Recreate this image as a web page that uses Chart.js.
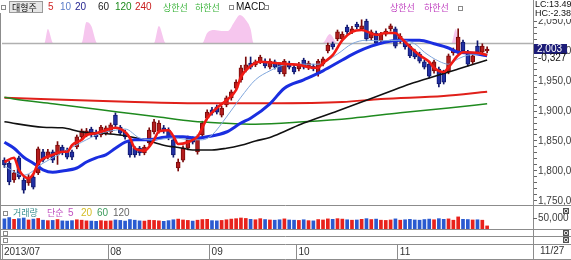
<!DOCTYPE html>
<html>
<head>
<meta charset="utf-8">
<script src="https://cdn.jsdelivr.net/npm/chart.js@4"></script>
<style>
  html, body { margin: 0; padding: 0; background: #fff; overflow: hidden; }
  canvas { display: block; }
</style>
</head>
<body>
<canvas id="chart" width="571" height="260"></canvas>
<script>
// x axis: one slot per trading day (data runs 2013/07/02 .. 11/27, rest left empty)
const slotCount = 110;
const monthTicks = [-0.5, 21.5, 42.5, 60.5, 81.5];
const monthLabels = ["2013/07", "08", "09", "10", "11"];
const lastDate = "11/27";
const priceLabelStep = 50;

// daily candles
const open = [1818,1813,1785,1822,1785,1780,1790,1797,1832,1823, 1832,1827,1840,1835,1832,1840,1857,1860,1870,1865,
  1860,1863,1865,1893,1873,1865,1848,1838,1838,1830, 1847,1865,1867,1872,1868,1852,1805,1818,1838,1853,
  1832,1860,1888,1902,1907,1893,1910,1922,1938,1952, 1968,1980,1977,1982,1983,1973,1982,1978,1962,1980,
  1973,1970,1985,1972,1975,1962,1978,2000,2012,2020, 2020,2040,2032,2045,2037,2050,2022,2030,2017,2028,
  2037,2037,2017,2015,2008,2000,1995,1982,1978,1967, 1970,1965,1965,1997,1998,2015,1998,1982,2008,1998, 2000];
const high = [1822,1816,1801,1825,1789,1794,1795,1840,1836,1836, 1835,1849,1843,1838,1835,1860,1870,1871,1873,1868,
  1876,1875,1880,1897,1876,1868,1851,1841,1841,1843, 1872,1886,1884,1876,1872,1855,1820,1842,1858,1857,
  1860,1883,1902,1906,1910,1908,1925,1935,1952,1976, 1990,1990,1985,1993,1987,1987,1985,1981,1986,1983,
  1977,1981,1988,1983,1978,1986,1990,2013,2015,2035, 2032,2043,2041,2048,2052,2053,2035,2033,2031,2037,
  2045,2040,2029,2018,2011,2003,1998,1985,1981,1985, 1973,1968,1995,2005,2037,2018,2001,1995,2017,2012, 2007];
const low = [1806,1777,1781,1787,1763,1776,1770,1794,1815,1820, 1814,1811,1827,1820,1819,1837,1854,1857,1857,1853,
  1857,1860,1862,1874,1860,1853,1823,1823,1826,1827, 1843,1862,1863,1863,1852,1823,1800,1815,1835,1845,
  1828,1857,1885,1893,1895,1890,1907,1918,1935,1948, 1965,1970,1974,1979,1972,1970,1970,1962,1958,1970,
  1962,1967,1970,1969,1967,1958,1975,1997,2003,2017, 2017,2028,2029,2037,2034,2017,2018,2010,2014,2025,
  2033,2005,2013,2003,1989,1987,1980,1970,1955,1963, 1940,1945,1962,1993,1995,1997,1975,1979,1995,1995, 1997];
const close = [1810,1782,1797,1790,1768,1790,1773,1837,1818,1832, 1818,1843,1830,1823,1823,1857,1867,1867,1860,1857,
  1873,1872,1877,1877,1863,1857,1827,1827,1830,1840, 1868,1882,1880,1867,1855,1827,1815,1838,1855,1848,
  1857,1880,1898,1897,1898,1905,1922,1932,1948,1972, 1977,1973,1982,1990,1975,1983,1973,1965,1983,1973,
  1965,1978,1973,1980,1970,1983,1987,2010,2007,2032, 2028,2032,2037,2040,2042,2020,2032,2013,2028,2033,
  2042,2008,2025,2007,1992,1990,1983,1973,1958,1982, 1945,1948,1992,2002,2023,2000,1978,1992,1998,2008, 2003];
const volume = [46000,52000,44000,47000,50000,41000,45000,48000,40000,38000, 39000,43000,37000,36000,38000,42000,40000,37000,36000,35000,
  38000,36000,37000,41000,39000,36000,43000,40000,37000,36000, 40000,39000,37000,35000,38000,42000,45000,41000,39000,36000,
  40000,43000,44000,38000,37000,39000,42000,45000,47000,50000, 48000,44000,42000,47000,43000,41000,40000,42000,46000,41000,
  40000,39000,42000,38000,37000,43000,41000,46000,44000,47000, 45000,42000,40000,41000,44000,47000,43000,45000,40000,39000,
  41000,46000,40000,42000,44000,41000,40000,43000,45000,42000, 47000,44000,46000,40000,55000,44000,43000,41000,42000,40000, 14000];

// moving averages as [day index, value]
const ma5 = [[0,1815],[2,1822],[3,1802],[5,1788],[6,1795],[7,1813],[10,1827],[12,1832],[13,1832],[14,1843],[16,1852],[17,1860],
  [19,1863],[21,1868],[23,1872],[25,1865],[26,1855],[27,1838],[29,1834],[31,1852],[32,1866],[34,1868],[35,1858],[36,1845],
  [38,1848],[39,1852],[40,1857],[42,1888],[44,1905],[46,1918],[48,1935],[49,1957],[51,1975],[53,1982],[56,1980],[59,1978],
  [61,1977],[63,1973],[65,1972],[66,1980],[68,1993],[70,2018],[72,2032],[74,2035],[77,2027],[79,2030],[81,2030],[82,2023],
  [84,2007],[86,1993],[88,1982],[89,1972],[91,1965],[92,1973],[94,1993],[95,1998],[98,1997],[100,1993]];
const ma10 = [[0,1808],[4,1793],[8,1813],[13,1835],[16,1848],[20,1863],[23,1868],[25,1870],[28,1855],[31,1852],[35,1855],
  [39,1852],[41,1852],[43,1860],[46,1890],[49,1923],[52,1952],[55,1967],[58,1977],[60,1978],[65,1978],[69,1995],[72,2012],
  [75,2018],[78,2017],[82,2018],[85,2012],[87,1998],[90,1983],[92,1978],[94,1987],[96,1993],[98,1995],[100,1995]];
const ma20 = [[0,1848],[2,1838],[4,1823],[6,1813],[8,1802],[10,1798],[12,1800],[15,1805],[17,1815],[19,1822],[21,1827],
  [23,1838],[25,1848],[27,1852],[30,1852],[34,1857],[37,1857],[40,1855],[42,1857],[46,1865],[49,1880],[51,1888],[55,1912],
  [58,1938],[62,1952],[66,1967],[70,1985],[73,1998],[76,2008],[79,2015],[82,2018],[86,2018],[89,2012],[92,2005],[94,1998],
  [96,1997],[98,1995],[100,1992]];
const ma60 = [[0,1882],[8,1873],[12,1872],[16,1865],[20,1863],[24,1860],[29,1852],[33,1843],[37,1838],[39,1835],[43,1835],
  [46,1838],[49,1843],[52,1850],[55,1856],[58,1866],[62,1880],[69,1900],[74,1915],[79,1930],[84,1945],[90,1960],[94,1970],
  [98,1980],[100,1985]];
const ma120 = [[0,1923],[2,1920],[10,1912],[20,1902],[27,1895],[32,1890],[39,1883],[45,1880],[52,1878],[62,1882],[72,1888],
  [82,1897],[92,1905],[100,1912]];
const ma240 = [[0,1922],[27,1915],[40,1913],[55,1913],[70,1915],[78,1920],[91,1925],[100,1932]];

// MACD oscillator, positive humps only show above its zero line
const macd = [[0,0],[8.3,0],[9,14],[10.1,0],[16,0],[17,21],[18,17],[19.2,0],[31,0],[32,17],[33.4,0],[41,0],[42,10],
  [43.5,13],[45,12],[46.3,12],[47.5,20],[48.8,28],[50,23],[51,14],[51.6,0],[65.9,0],[67.4,9],[69,0],[92.6,0],[93.5,14],
  [94.3,0],[100,0]];

const UP = "#b31c1c", UP_DARK = "#7a0a0a";
const DOWN = "#2230a4", DOWN_DARK = "#10186e";
const LAT = '10px "Liberation Sans", Arial, sans-serif';
const SMALL = '9px "Liberation Sans", Arial, sans-serif';
const KR = '9px "Noto Sans CJK KR", sans-serif';

const isUp = open.map((o, i) => close[i] >= o);
const pts = arr => arr.map(p => ({ x: p[0], y: p[1] }));

function txt(ctx, s, x, y, color, font) {
  ctx.font = font || LAT;
  ctx.fillStyle = color;
  ctx.textAlign = "left";
  ctx.textBaseline = "middle";
  ctx.fillText(s, x, y);
}
function sq(ctx, x, y) {
  ctx.strokeStyle = "#8a8a8a";
  ctx.lineWidth = 1;
  ctx.strokeRect(x + 0.5, y + 0.5, 4, 4);
}
function xbox(ctx, x, y) {
  ctx.fillStyle = "#dcdcdc";
  ctx.fillRect(x, y, 6, 6);
  ctx.strokeStyle = "#505050";
  ctx.lineWidth = 1;
  ctx.strokeRect(x + 0.5, y + 0.5, 5, 5);
  ctx.beginPath();
  ctx.moveTo(x + 1.5, y + 1.5); ctx.lineTo(x + 4.5, y + 4.5);
  ctx.moveTo(x + 4.5, y + 1.5); ctx.lineTo(x + 1.5, y + 4.5);
  ctx.stroke();
}

const htsDecor = {
  id: "htsDecor",
  afterDatasetDraw(chart, args) {
    if (args.index !== 0) return;
    // MACD zero line
    const { ctx, chartArea: a } = chart;
    const y = Math.round(chart.scales.ym.getPixelForValue(0)) + 0.5;
    ctx.save();
    ctx.strokeStyle = "#b0b0b0";
    ctx.lineWidth = 1.5;
    ctx.beginPath(); ctx.moveTo(a.left, y); ctx.lineTo(a.right, y); ctx.stroke();
    ctx.restore();
  },
  afterDraw(chart) {
    const { ctx, chartArea: a } = chart;
    const W = chart.width, H = chart.height;
    ctx.save();

    // panel rules
    ctx.strokeStyle = "#8c8c8c";
    ctx.lineWidth = 1;
    [205, 229, 236, 244, 259].forEach(y => {
      ctx.beginPath(); ctx.moveTo(0, y + 0.5); ctx.lineTo(W, y + 0.5); ctx.stroke();
    });
    ctx.beginPath();
    ctx.moveTo(a.right + 0.5, 0); ctx.lineTo(a.right + 0.5, H);
    ctx.moveTo(0.5, 13); ctx.lineTo(0.5, H);
    ctx.stroke();

    // toolbar
    sq(ctx, 1, 5);
    ctx.fillStyle = "#e6e6e6";
    ctx.fillRect(9, 1, 34, 12);
    ctx.strokeStyle = "#9a9a9a";
    ctx.strokeRect(9.5, 1.5, 33, 11);
    txt(ctx, "대형주", 12, 7.5, "#111", KR);
    txt(ctx, "5", 48, 7.5, "#d02828");
    txt(ctx, "10", 60, 7.5, "#5a7cc8");
    txt(ctx, "20", 75, 7.5, "#1c1c8c");
    txt(ctx, "60", 98, 7.5, "#222");
    txt(ctx, "120", 115, 7.5, "#1d8a1d");
    txt(ctx, "240", 135, 7.5, "#c81e1e");
    txt(ctx, "상한선", 163, 7.5, "#3cb43c", KR);
    txt(ctx, "하한선", 195, 7.5, "#3cb43c", KR);
    sq(ctx, 229, 5);
    txt(ctx, "MACD", 236, 7.5, "#111");
    sq(ctx, 264, 5);
    txt(ctx, "상한선", 390, 8, "#c040c0", KR);
    txt(ctx, "하한선", 424, 8, "#c040c0", KR);
    sq(ctx, 458, 6);

    // right column readouts
    ctx.fillStyle = "#fff";
    ctx.fillRect(a.right + 1, 0, W - a.right - 1, 19);
    txt(ctx, "LC:13.49", a.right + 2, 5, "#111", SMALL);
    txt(ctx, "HC:-2.38", a.right + 2, 14, "#111", SMALL);
    const yLast = Math.round(chart.scales.y.getPixelForValue(close[close.length - 1]));
    ctx.fillStyle = "#1c1c78";
    ctx.fillRect(a.right + 1, yLast - 5, 33, 10);
    txt(ctx, close[close.length - 1].toLocaleString("en-US"), a.right + 4, yLast, "#fff");
    txt(ctx, "-0,327", a.right + 5, yLast + 9, "#111");

    // volume panel
    sq(ctx, 3, 211);
    txt(ctx, "거래량", 13, 213, "#3a9090", KR);
    txt(ctx, "단순", 47, 213, "#c050c0", KR);
    txt(ctx, "5", 68, 213, "#c050c0");
    txt(ctx, "20", 81, 213, "#d4bc22");
    txt(ctx, "60", 97, 213, "#3c9c5c");
    txt(ctx, "120", 113, 213, "#666");
    const yv = Math.round(chart.scales.yv.getPixelForValue(50000)) + 0.5;
    ctx.strokeStyle = "#666";
    ctx.beginPath(); ctx.moveTo(a.right, yv); ctx.lineTo(a.right + 4, yv); ctx.stroke();
    txt(ctx, "50,000", a.right + 5, yv, "#3c3c3c");
    sq(ctx, 3, 231);
    sq(ctx, 3, 238);
    xbox(ctx, 563, 208);
    xbox(ctx, 563, 230);
    xbox(ctx, 563, 237);

    txt(ctx, lastDate, a.right + 7, 251.5, "#333");
    ctx.restore();
  }
};

new Chart(document.getElementById("chart"), {
  type: "bar",
  data: {
    datasets: [
      {
        type: "line", label: "MACD", data: pts(macd), yAxisID: "ym", order: 10,
        borderWidth: 0, pointRadius: 0, fill: "origin", backgroundColor: "#f6c6ee",
        cubicInterpolationMode: "monotone"
      },
      {
        label: "거래량", order: 9, yAxisID: "yv", grouped: false, barThickness: 3,
        data: volume.map((v, i) => ({ x: i, y: v })),
        backgroundColor: isUp.map(u => u ? "#e8221c" : "#2a5ad0")
      },
      {
        label: "wick", order: 8, yAxisID: "y", grouped: false, barThickness: 1,
        data: low.map((l, i) => ({ x: i, y: [l, high[i]] })),
        backgroundColor: isUp.map(u => u ? UP_DARK : DOWN_DARK)
      },
      {
        label: "body", order: 7, yAxisID: "y", grouped: false, barThickness: 4, minBarLength: 1,
        data: open.map((o, i) => ({ x: i, y: [o, close[i]] })),
        backgroundColor: isUp.map(u => u ? UP : DOWN),
        borderColor: isUp.map(u => u ? UP_DARK : DOWN_DARK),
        borderWidth: 1, borderSkipped: false
      },
      { type: "line", label: "240", data: pts(ma240), yAxisID: "y", order: 6, borderColor: "#e0201a", borderWidth: 2 },
      { type: "line", label: "120", data: pts(ma120), yAxisID: "y", order: 5, borderColor: "#1f8a1f", borderWidth: 1.5 },
      { type: "line", label: "60", data: pts(ma60), yAxisID: "y", order: 4, borderColor: "#111", borderWidth: 1.6 },
      { type: "line", label: "20", data: pts(ma20), yAxisID: "y", order: 3, borderColor: "#1a2ee0", borderWidth: 3 },
      { type: "line", label: "10", data: pts(ma10), yAxisID: "y", order: 2, borderColor: "#7fa6dc", borderWidth: 1 },
      { type: "line", label: "5", data: pts(ma5), yAxisID: "y", order: 1, borderColor: "#f01a14", borderWidth: 2.6 }
    ].map(d => d.type === "line" && d.label !== "MACD"
      ? Object.assign({ pointRadius: 0, cubicInterpolationMode: "monotone", fill: false }, d)
      : d)
  },
  options: {
    responsive: false,
    animation: false,
    devicePixelRatio: 1,
    events: [],
    layout: { padding: { left: 2, top: 14, right: 0, bottom: 0 } },
    plugins: { legend: { display: false }, tooltip: { enabled: false } },
    scales: {
      x: {
        type: "linear", min: -0.5, max: slotCount - 0.5, offset: false,
        afterBuildTicks: s => { s.ticks = monthTicks.map(v => ({ value: v })); },
        afterFit: s => { s.height = 16; },
        ticks: {
          autoSkip: false, maxRotation: 0, align: "start", labelOffset: 2, padding: -14,
          color: "#333", font: { family: '"Liberation Sans", Arial, sans-serif', size: 10 },
          callback: (v, i) => monthLabels[i]
        },
        grid: { drawOnChartArea: false, drawTicks: true, tickLength: 16, color: "#8c8c8c", offset: false },
        border: { display: false }
      },
      y: {
        type: "linear", position: "right", min: 1678.333, max: 2061.667,
        afterBuildTicks: s => {
          const t = [];
          for (let v = 1750; v <= 2060; v += 10) t.push({ value: v });
          s.ticks = t;
        },
        afterFit: s => { s.width = 38; },
        ticks: {
          autoSkip: false, padding: 1, color: "#3c3c3c",
          font: { family: '"Liberation Sans", Arial, sans-serif', size: 10 },
          callback: v => v % priceLabelStep === 0 ? v.toLocaleString("en-US") + ",00" : ""
        },
        grid: { drawOnChartArea: false, drawTicks: true, tickLength: 4, color: "#666" },
        border: { display: true, color: "#8c8c8c" }
      },
      yv: { type: "linear", display: false, min: -68182, max: 977273 },
      ym: { type: "linear", display: false, min: -201, max: 29 }
    }
  },
  plugins: [htsDecor]
});
</script>
</body>
</html>
